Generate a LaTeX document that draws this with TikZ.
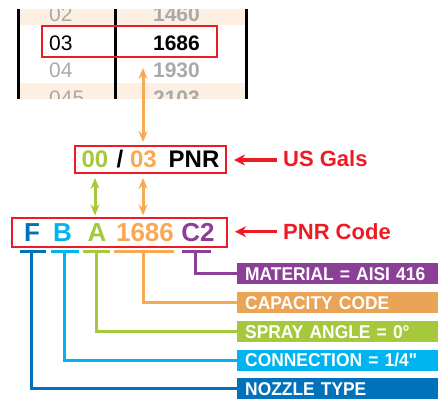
\documentclass[tikz,border=0pt]{standalone}
\usepackage{fontspec}
\setmainfont{Liberation Sans}
\newfontfamily\lblfont{Liberation Sans}[FakeStretch=0.94]
\usetikzlibrary{positioning, arrows.meta}
\definecolor{pnrred}{HTML}{ED1C24}
\definecolor{tabpeach}{HTML}{FDEFE1}
\definecolor{tabgray}{HTML}{A7A9AC}
\definecolor{codegreen}{HTML}{A6C83C}
\definecolor{codeorange}{HTML}{F8A955}
\definecolor{lblorange}{HTML}{EAA457}
\definecolor{codepurple}{HTML}{8B3F97}
\definecolor{codecyan}{HTML}{00B5EF}
\definecolor{codeblue}{HTML}{0071BB}

\begin{document}
\begin{tikzpicture}[x=1pt, y=-1pt,
  redbox/.style={draw=pnrred, line width=2pt, inner sep=0},
  tabnum/.style={inner sep=0, font=\fontsize{21}{21}\selectfont},
  galtxt/.style={inner sep=0, anchor=base, font=\fontsize{24}{24}\selectfont\bfseries},
  codetxt/.style={inner sep=0, anchor=base, font=\fontsize{26}{26}\selectfont\bfseries},
  redlabel/.style={inner sep=2pt, anchor=base west, text=pnrred, font=\fontsize{22}{22}\selectfont\bfseries},
  redarr/.style={-{Stealth[length=11pt, width=11pt]}, line width=3.5pt, pnrred},
  dblarr/.style={{Stealth[length=11pt, width=9pt]}-{Stealth[length=11pt, width=9pt]}, line width=3pt},
  bar/.style={line width=3.5pt},
  lead/.style={line width=3pt},
  lbl/.style={anchor=west, minimum height=21pt, text width=185pt, inner xsep=8pt, inner ysep=0, text height=13.3pt, text depth=0pt,
    align=left, text=white, font=\lblfont\fontsize{18.5}{18.5}\selectfont\bfseries}
]
\useasboundingbox (0,0) rectangle (438,399);

% capacity table
\begin{scope}
  \clip (16,9) rectangle (250,98);
  \fill[tabpeach] (18,0) rectangle (247,25);
  \fill[tabpeach] (18,83) rectangle (247,112);
  \foreach \x in {18.5,115.5,246.5}
    \draw[line width=2.5pt] (\x,0) -- (\x,112);
  \node[tabnum, anchor=base west, text=tabgray] (n02) at (49,21) {02};
  \node[tabnum, anchor=base east, text=tabgray, font=\fontsize{21}{21}\selectfont\bfseries] (c02) at (200,21) {1460};
  \node[tabnum, anchor=base west] (n03) at (49,50) {03};
  \node[tabnum, anchor=base east, font=\fontsize{21}{21}\selectfont\bfseries] (c03) at (200,50) {1686};
  \node[tabnum, anchor=base west, text=tabgray] (n04) at (49,77.5) {04};
  \node[tabnum, anchor=base east, text=tabgray, font=\fontsize{21}{21}\selectfont\bfseries] (c04) at (200,77.5) {1930};
  \node[tabnum, anchor=base west, text=tabgray] (n045) at (49,105.5) {045};
  \node[tabnum, anchor=base east, text=tabgray, font=\fontsize{21}{21}\selectfont\bfseries] (c045) at (200,105.5) {2103};
\end{scope}
\node[redbox, minimum width=175pt, minimum height=31pt] (row03) at (129.5,41.5) {};

% US gallons
\node[redbox, minimum width=151pt, minimum height=27pt] (gals) at (150.5,159.5) {};
\node[galtxt, text=codegreen] (g00) at (95,167.7) {00};
\node[galtxt] (gsl) at (120,167.7) {/};
\node[galtxt, text=codeorange] (g03) at (143.5,167.7) {03};
\node[galtxt] (gpnr) at (194,167.7) {PNR};
\node[redlabel] (usgals) at (281,166.7) {US Gals};

% PNR code
\node[redbox, minimum width=215pt, minimum height=29pt] (code) at (119.5,232.5) {};
\node[codetxt, text=codeblue] (cF) at (32,241.7) {F};
\node[codetxt, text=codecyan] (cB) at (62.5,241.7) {B};
\node[codetxt, text=codegreen] (cA) at (97,241.7) {A};
\node[codetxt, text=codeorange] (cCap) at (145,241.7) {1686};
\node[codetxt, text=codepurple] (cMat) at (198,241.7) {C2};
\node[redlabel] (pnrcode) at (281,239) {PNR Code};

\coordinate (tabtip) at (143,68);
\draw[dblarr, codeorange, shorten >=3pt] (tabtip) -- (tabtip |- gals.north);
\draw[dblarr, codegreen, shorten <=4pt, shorten >=1.5pt] (g00 |- gals.south) -- (g00 |- code.north);
\draw[dblarr, codeorange, shorten <=4pt, shorten >=1.5pt] (tabtip |- gals.south) -- (tabtip |- code.north);
\draw[redarr, shorten <=4pt, shorten >=7pt] (usgals.west |- 0,160) -- (gals.east |- 0,160);
\draw[redarr, shorten <=4pt, shorten >=7pt] (pnrcode.west |- 0,231.7) -- (code.east |- 0,231.7);

% legend
\node[lbl, fill=codepurple] (lmat) at (237,273.5) {MATERIAL = AISI 416};
\node[lbl, fill=lblorange] (lcap) at (237,302.5) {CAPACITY CODE};
\node[lbl, fill=codegreen] (lang) at (237,331.5) {SPRAY ANGLE = 0°};
\node[lbl, fill=codecyan] (lcon) at (237,360) {CONNECTION = 1/4"};
\node[lbl, fill=codeblue] (ltyp) at (237,388.5) {NOZZLE TYPE};

\draw[bar, codeblue] (20,251.5) coordinate (bF) -- (46,251.5);
\draw[bar, codecyan] (51,251.5) coordinate (bB) -- (79,251.5);
\draw[bar, codegreen] (83,251.5) coordinate (bA) -- (110,251.5);
\draw[bar, codeorange] (114,251.5) coordinate (bCap) -- (174,251.5);
\draw[bar, codepurple] (182,251.5) coordinate (bMat) -- (211,251.5);

\draw[lead, codeblue] ([xshift=11pt]bF) |- (ltyp.west);
\draw[lead, codecyan] ([xshift=13pt]bB) |- (lcon.west);
\draw[lead, codegreen] ([xshift=13pt]bA) |- (lang.west);
\draw[lead, codeorange] ([xshift=29pt]bCap) |- (lcap.west);
\draw[lead, codepurple] ([xshift=13pt]bMat) |- (lmat.west);

\end{tikzpicture}
\end{document}
